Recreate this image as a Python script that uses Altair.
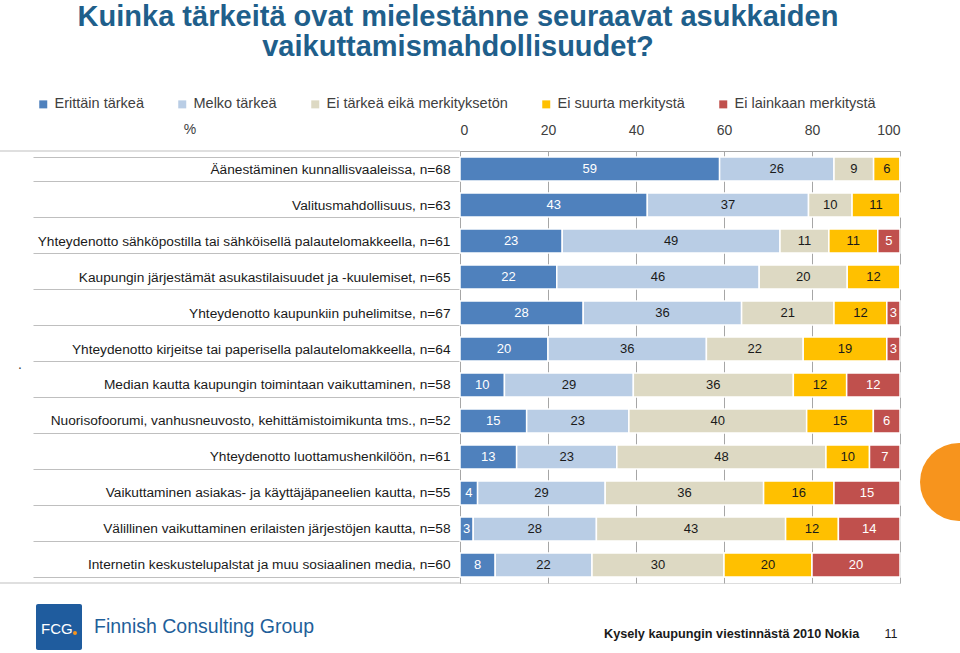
import altair as alt
import pandas as pd

title_lines = ["Kuinka tärkeitä ovat mielestänne seuraavat asukkaiden",
               "vaikuttamismahdollisuudet?"]
items = [
    "Äänestäminen kunnallisvaaleissa, n=68",
    "Valitusmahdollisuus, n=63",
    "Yhteydenotto sähköpostilla tai sähköisellä palautelomakkeella, n=61",
    "Kaupungin järjestämät asukastilaisuudet ja -kuulemiset, n=65",
    "Yhteydenotto kaupunkiin puhelimitse, n=67",
    "Yhteydenotto kirjeitse tai paperisella palautelomakkeella, n=64",
    "Median kautta kaupungin toimintaan vaikuttaminen, n=58",
    "Nuorisofoorumi, vanhusneuvosto, kehittämistoimikunta tms., n=52",
    "Yhteydenotto luottamushenkilöön, n=61",
    "Vaikuttaminen asiakas- ja käyttäjäpaneelien kautta, n=55",
    "Välillinen vaikuttaminen erilaisten järjestöjen kautta, n=58",
    "Internetin keskustelupalstat ja muu sosiaalinen media, n=60",
]
categories = ["Erittäin tärkeä", "Melko tärkeä", "Ei tärkeä eikä merkityksetön",
              "Ei suurta merkitystä", "Ei lainkaan merkitystä"]
colors = ["#4F81BD", "#B9CDE5", "#DDD9C3", "#FFC000", "#C0504D"]

erittain = [59, 43, 23, 22, 28, 20, 10, 15, 13, 4, 3, 8]
melko = [26, 37, 49, 46, 36, 36, 29, 23, 23, 29, 28, 22]
ei_tarkea = [9, 10, 11, 20, 21, 22, 36, 40, 48, 36, 43, 30]
ei_suurta = [6, 11, 11, 12, 12, 19, 12, 15, 10, 16, 12, 20]
ei_lainkaan = [0, 0, 5, 0, 3, 3, 12, 6, 7, 15, 14, 20]
x_ticks = [0, 20, 40, 60, 80, 100]

footer_left = "Finnish Consulting Group"
logo_text = "FCG"
footer_right = "Kysely kaupungin viestinnästä 2010 Nokia"
page_no = "11"

series = [erittain, melko, ei_tarkea, ei_suurta, ei_lainkaan]
rows = []
for ci, (cat, vals) in enumerate(zip(categories, series)):
    for it, v in zip(items, vals):
        rows.append({"item": it, "cat": cat, "order": ci, "value": v})
df = pd.DataFrame(rows)

FONT = "Liberation Sans"

base = (
    alt.Chart(df)
    .transform_joinaggregate(total="sum(value)", groupby=["item"])
    .transform_calculate(p="datum.value / datum.total * 100")
    .transform_stack(stack="p", groupby=["item"], sort=[alt.SortField("order")], as_=["x0", "x1"])
    .transform_calculate(mid="(datum.x0 + datum.x1) / 2")
)

y_enc = alt.Y(
    "item:N", sort=items,
    scale=alt.Scale(paddingInner=0.333, paddingOuter=0.167),
    axis=alt.Axis(title=None, tickBand="extent", tickSize=427, tickColor="#BFBFBF",
                  tickWidth=1, labelPadding=-417, labelFontSize=13.7, labelLimit=600,
                  labelColor="#1a1a1a", domainColor="#A6A6A6", grid=False, labelFont=FONT),
)

bars = base.mark_bar(stroke="white", strokeWidth=1.5).encode(
    x=alt.X("x0:Q", scale=alt.Scale(domain=[0, 100], nice=False),
            axis=alt.Axis(orient="top", values=x_ticks, title=None, ticks=False,
                          labelPadding=14, labelFontSize=14, labelColor="#404040",
                          grid=True, gridColor="#A6A6A6", domainColor="#A6A6A6",
                          labelFont=FONT)),
    x2="x1:Q",
    y=y_enc,
    color=alt.Color("cat:N", scale=alt.Scale(domain=categories, range=colors),
                    legend=alt.Legend(title=None, orient="none", legendX=-424, legendY=-54,
                                      direction="horizontal", symbolType="square",
                                      symbolSize=64, labelFontSize=14.5, labelColor="#404040",
                                      columnPadding=31, symbolStrokeWidth=0, labelLimit=300,
                                      labelFont=FONT)),
    order=alt.Order("order:Q"),
)

labels = base.transform_filter("datum.value > 0").mark_text(
    fontSize=13, font=FONT).encode(
    x="mid:Q",
    y=alt.Y("item:N", sort=items),
    text="value:Q",
    color=alt.condition(
        "datum.cat == 'Erittäin tärkeä' || datum.cat == 'Ei lainkaan merkitystä'",
        alt.value("white"), alt.value("#1a1a1a")),
)


def txt(s, x, y, **kw):
    return alt.Chart(pd.DataFrame({"t": [s]})).mark_text(**kw).encode(
        x=alt.value(x), y=alt.value(y), text="t:N")


def rule(x, x2, y):
    return alt.Chart(pd.DataFrame({"t": [0]})).mark_rule(color="#BFBFBF", strokeWidth=1).encode(
        x=alt.value(x), x2=alt.value(x2), y=alt.value(y))


title1 = txt(title_lines[0], -2, -125, font=FONT, fontSize=29, fontWeight="bold",
             color="#1F5F8B", align="center", baseline="alphabetic")
title2 = txt(title_lines[1], -2, -95, font=FONT, fontSize=29, fontWeight="bold",
             color="#1F5F8B", align="center", baseline="alphabetic")
pct = txt("%", -270, -21, font=FONT, fontSize=14, color="#404040", align="center",
          baseline="middle")
dot = txt(".", -440, 214, font=FONT, fontSize=14, color="#404040", align="center",
          baseline="middle")

top_rule = rule(-460, 0, 0)
bottom_rule = rule(-460, 0, 432)

logo = alt.Chart(pd.DataFrame({"t": [logo_text]})).mark_rect(
    color="#1F5C9E", cornerRadius=2).encode(
    x=alt.value(-424), x2=alt.value(-378), y=alt.value(453), y2=alt.value(499))
logo_t = txt(logo_text, -419, 478, font=FONT, fontSize=15, color="white",
             align="left", baseline="middle")
logo_dot = alt.Chart(pd.DataFrame({"t": [logo_text]})).mark_circle(
    color="#F7941D", size=16, opacity=1).encode(x=alt.value(-385), y=alt.value(482))
fl = txt(footer_left, -366, 482, font=FONT, fontSize=19.5, color="#1F5F9A",
         align="left", baseline="alphabetic")
fr = txt(footer_right, 144, 487, font=FONT, fontSize=12.7, fontWeight="bold",
         color="#1a1a1a", align="left", baseline="alphabetic")
pg = txt(page_no, 431, 487, font=FONT, fontSize=12.5, color="#1a1a1a",
         align="center", baseline="alphabetic")
orange = alt.Chart(pd.DataFrame({"t": [page_no]})).mark_circle(
    color="#F7941D", size=6084, opacity=1).encode(x=alt.value(499), y=alt.value(331))

chart = alt.layer(
    top_rule, bottom_rule, bars, labels, title1, title2, pct, dot,
    logo, logo_t, logo_dot, fl, fr, pg, orange
).properties(
    width=440, height=432,
    autosize=alt.AutoSizeParams(type="none"),
    padding={"left": 460, "top": 151, "right": 60, "bottom": 70},
    background="white",
).configure_view(stroke=None).configure(font=FONT)

chart.save("out.html", embed_options={"renderer": "svg", "actions": False})
